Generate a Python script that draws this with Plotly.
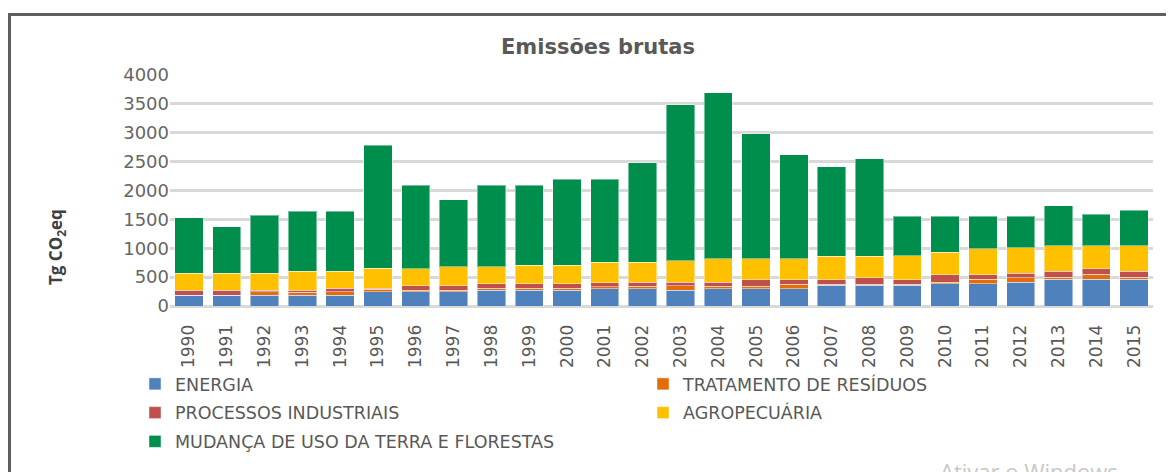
import plotly.graph_objects as go

years = [str(y) for y in range(1990, 2016)]

energia = [190, 190, 190, 190, 190, 248, 248, 248, 277, 277, 277, 300, 300,
           277, 300, 300, 300, 358, 358, 358, 387, 387, 410, 462, 462, 462]
tratamento = [0, 0, 58, 52, 58, 40, 29, 29, 29, 29, 29, 35, 46,
              75, 46, 46, 81, 23, 23, 23, 23, 75, 81, 35, 87, 35]
processos = [87, 87, 29, 35, 58, 17, 75, 75, 81, 81, 81, 69, 63,
             58, 63, 110, 75, 75, 104, 75, 127, 75, 75, 104, 98, 104]
agropecuaria = [289, 289, 289, 323, 294, 345, 294, 328, 293, 322, 322, 352, 347,
                374, 409, 362, 362, 409, 380, 414, 394, 451, 445, 439, 393, 439]
mudanca = [963, 808, 1003, 1038, 1038, 2132, 1441, 1159, 1407, 1378, 1486, 1439, 1724,
           2699, 2878, 2165, 1803, 1548, 1682, 687, 626, 569, 546, 695, 547, 616]

series_names = ["ENERGIA", "TRATAMENTO DE RESÍDUOS", "PROCESSOS INDUSTRIAIS",
                "AGROPECUÁRIA", "MUDANÇA DE USO DA TERRA E FLORESTAS"]
series_values = [energia, tratamento, processos, agropecuaria, mudanca]
series_colors = ["#4F81BD", "#E46C0A", "#C0504D", "#FFC000", "#008E4C"]
series_legend = ["legend", "legend2", "legend", "legend2", "legend"]

y_ticks = [0, 500, 1000, 1500, 2000, 2500, 3000, 3500, 4000]

fig = go.Figure()
for name, vals, col, leg in zip(series_names, series_values, series_colors, series_legend):
    fig.add_trace(go.Bar(
        x=years, y=vals, name=name, legend=leg, legendgroup=name,
        marker=dict(color=col, line=dict(color="rgba(255,255,255,0.45)", width=1)),
    ))

# page has an 8px body margin; positions below are given in page pixels
OFF = 8
W, H = 1174, 472
L, R, T, B = 170 - OFF, 29, 75 - OFF, 174
pw, ph = W - L - R, H - T - B


def px_x(x):
    return (x - OFF - L) / pw


def px_y(y):
    return (H - B - (y - OFF)) / ph


legend_common = dict(
    orientation="v", font=dict(family="DejaVu Sans", size=17.5, color="#595959"),
    bgcolor="rgba(0,0,0,0)", traceorder="grouped", tracegroupgap=3,
    xanchor="left", yanchor="top", itemwidth=30,
)

fig.update_layout(
    width=W, height=H,
    margin=dict(l=L, r=R, t=T, b=B),
    paper_bgcolor="white", plot_bgcolor="white",
    barmode="stack", bargap=0.25,
    title=dict(text="<b>Emissões brutas</b>", xref="container", x=(598 - OFF) / W,
               xanchor="center", yref="container", y=1 - (47 - OFF) / H, yanchor="middle",
               font=dict(family="DejaVu Sans", size=21, color="#595959")),
    xaxis=dict(type="category", tickangle=-90, showgrid=False, showline=False,
               ticks="outside", ticklen=11, tickcolor="rgba(0,0,0,0)",
               tickfont=dict(family="DejaVu Sans", size=17, color="#595959")),
    yaxis=dict(range=[0, 4000], tickvals=y_ticks, showgrid=True, gridcolor="#D9D9D9",
               gridwidth=2.5, zeroline=True, zerolinecolor="#D9D9D9", zerolinewidth=3,
               ticks="", ticklabelstandoff=0,
               tickfont=dict(family="DejaVu Sans", size=18, color="#666666")),
    legend=dict(x=px_x(135), y=px_y(366), **legend_common),
    legend2=dict(x=px_x(643), y=px_y(366), **legend_common),
    showlegend=True,
    annotations=[
        dict(text="<b>Tg CO<sub>2</sub>eq</b>", xref="paper", yref="paper",
             x=px_x(56), y=px_y(247), textangle=-90, showarrow=False,
             xanchor="center", yanchor="middle",
             font=dict(family="Open Sans", size=17, color="#404040")),
        dict(text="Ativar o Windows", xref="paper", yref="paper",
             x=px_x(938), y=px_y(454), showarrow=False, xanchor="left", yanchor="top",
             font=dict(family="Open Sans", size=22, color="#C8C8C8")),
    ],
    shapes=[
        dict(type="rect", xref="paper", yref="paper",
             x0=px_x(9.5), x1=px_x(1200), y0=px_y(500), y1=px_y(14.5),
             line=dict(color="#5F5F5F", width=3), fillcolor="rgba(0,0,0,0)", layer="below"),
    ],
)

fig.write_html("out.html")
